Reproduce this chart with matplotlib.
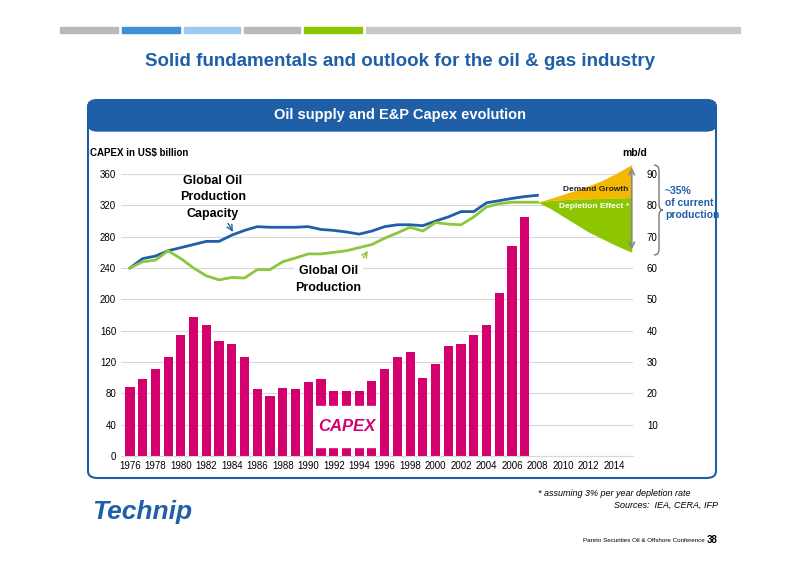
import numpy as np
import matplotlib
matplotlib.use("Agg")
import matplotlib.pyplot as plt
from matplotlib.patches import FancyBboxPatch, Rectangle
from matplotlib.path import Path as MPath
from matplotlib.patches import PathPatch

plt.rcParams["font.family"] = ["Liberation Sans", "DejaVu Sans"]

# ── Data ────────────────────────────────────────────────────────────────────
capex_years = np.arange(1976, 2008)
capex = [88, 98, 111, 127, 155, 177, 167, 147, 143, 127, 85, 76, 87, 86, 94, 98,
         83, 83, 83, 96, 111, 127, 133, 100, 117, 141, 143, 155, 167, 208, 268, 305]

line_years = np.arange(1976, 2009)
capacity_mbd = [60, 63, 63.8, 65.5, 66.5, 67.5, 68.5, 68.5, 70.5, 72, 73.2, 73, 73, 73,
                73.2, 72.3, 72, 71.5, 70.8, 71.8, 73.2, 73.8, 73.8, 73.5, 75, 76.3,
                78, 78, 80.8, 81.5, 82.2, 82.8, 83.2]
production_mbd = [60, 62, 62.5, 65.5, 63, 60, 57.5, 56.2, 57, 56.8, 59.5, 59.5, 62,
                  63.2, 64.5, 64.5, 65, 65.5, 66.5, 67.5, 69.5, 71.2, 73, 71.8, 74.5,
                  74, 73.8, 76.3, 79.5, 80.5, 81, 81, 81]

fan_years = [2008, 2009, 2010, 2011, 2012, 2013, 2014, 2015.4]
demand_top = [81, 82.2, 83.5, 84.8, 86.2, 87.8, 89.8, 93]
split_line = [81, 81.5, 81.8, 82, 82.1, 82.2, 82.3, 82.5]
depletion_bottom = [81, 79, 76.5, 74, 71.5, 69.5, 67.5, 65]

x_ticks = list(range(1976, 2016, 2))
left_ticks = list(range(0, 361, 40))
right_ticks = list(range(10, 91, 10))

BLUE = "#1f5fa8"
GREEN = "#8cc63f"
MAGENTA = "#d4006e"
ORANGE = "#f5b800"
FAN_GREEN = "#8dc500"

fig = plt.figure(figsize=(8, 5.65), dpi=100, facecolor="white")

# top colored stripes
stripes = [(60, 118, "#b9b9b9"), (122, 180, "#3f8ed8"), (184, 240, "#9dc9ef"),
           (244, 300, "#b9b9b9"), (304, 362, "#8dc500"), (366, 740, "#c8c8c8")]
for x0, x1, c in stripes:
    fig.patches.append(Rectangle((x0 / 800, 1 - 33 / 565), (x1 - x0) / 800, 6 / 565,
                                 transform=fig.transFigure, color=c))

fig.text(0.5, 1 - 62 / 565, "Solid fundamentals and outlook for the oil & gas industry",
         ha="center", va="center", fontsize=13.5, fontweight="bold", color=BLUE)

# panel frame and header
fig.patches.append(FancyBboxPatch((88 / 800, 1 - 478 / 565), 628 / 800, 378 / 565,
                                  boxstyle="round,pad=0,rounding_size=0.012",
                                  transform=fig.transFigure, fill=False,
                                  ec=BLUE, lw=1.5))
fig.patches.append(FancyBboxPatch((88 / 800, 1 - 131 / 565), 628 / 800, 31 / 565,
                                  boxstyle="round,pad=0,rounding_size=0.012",
                                  transform=fig.transFigure, color=BLUE))
fig.text(0.5, 1 - 115 / 565, "Oil supply and E&P Capex evolution", ha="center",
         va="center", fontsize=10.5, fontweight="bold", color="white")

# ── Axes ────────────────────────────────────────────────────────────────────
ax = fig.add_axes([121 / 800, 1 - 456 / 565, 512 / 800, 282 / 565])
ax.set_xlim(1975.3, 2015.5)
ax.set_ylim(0, 360)
for y in left_ticks:
    ax.axhline(y, color="#d8d8d8", lw=0.8, zorder=0)
ax.bar(capex_years, capex, width=0.72, color=MAGENTA, zorder=2)
ax.plot(line_years, np.array(capacity_mbd) * 4, color=BLUE, lw=2, zorder=3)
ax.plot(line_years, np.array(production_mbd) * 4, color=GREEN, lw=2, zorder=3)

ax.fill_between(fan_years, np.array(split_line) * 4, np.array(demand_top) * 4,
                color=ORANGE, lw=0, clip_on=False, zorder=2)
ax.fill_between(fan_years, np.array(depletion_bottom) * 4, np.array(split_line) * 4,
                color=FAN_GREEN, lw=0, clip_on=False, zorder=2)
ax.annotate("", xy=(2015.4, 93 * 4), xytext=(2015.4, 65 * 4), annotation_clip=False,
            arrowprops=dict(arrowstyle="<->", color="#888888", lw=1.2))

ax.set_xticks(x_ticks)
ax.set_yticks(left_ticks)
ax.tick_params(length=0, labelsize=7)
for s in ax.spines.values():
    s.set_visible(False)
ax.spines["bottom"].set_visible(True)
ax.spines["bottom"].set_color("#d8d8d8")

ax2 = ax.twinx()
ax2.set_ylim(0, 90)
ax2.set_yticks(right_ticks)
ax2.tick_params(length=0, labelsize=7, pad=10)
for s in ax2.spines.values():
    s.set_visible(False)

# CAPEX label box (white gap across bars)
ax.add_patch(Rectangle((1990.5, 12), 5, 52, color="white", zorder=4))
ax.text(1993, 38, "CAPEX", ha="center", va="center", fontsize=12, fontweight="bold",
        style="italic", color=MAGENTA, zorder=5)

ax.text(1982.5, 330, "Global Oil\nProduction\nCapacity", ha="center", va="center",
        fontsize=9, fontweight="bold", linespacing=1.5)
ax.annotate("", xy=(1984.2, 283), xytext=(1983.6, 300),
            arrowprops=dict(arrowstyle="->", color=BLUE, lw=1))
ax.text(1991.6, 225, "Global Oil\nProduction", ha="center", va="center", fontsize=9,
        fontweight="bold", linespacing=1.5,
        bbox=dict(boxstyle="square,pad=0.1", fc="white", ec="none"))
ax.annotate("", xy=(1994.8, 265), xytext=(1994.2, 250),
            arrowprops=dict(arrowstyle="->", color=GREEN, lw=1))
ax.text(2012.6, 340, "Demand Growth", ha="center", va="center", fontsize=6,
        fontweight="bold", color="#222222", zorder=4)
ax.text(2012.4, 318, "Depletion Effect *", ha="center", va="center", fontsize=6,
        fontweight="bold", color="white", zorder=4)

fig.text(90 / 800, 1 - 153 / 565, "CAPEX in US$ billion", fontsize=7,
         fontweight="bold", va="center")
fig.text(622 / 800, 1 - 153 / 565, "mb/d", fontsize=7.5, fontweight="bold", va="center")

# curly brace drawn as a path (figure pixel coords)
bx, top, bot = 654, 165, 255
mid = (top + bot) / 2
verts = [(bx, top), (bx + 5, top), (bx + 5, top + 6), (bx + 5, mid - 6),
         (bx + 5, mid), (bx + 9, mid), (bx + 5, mid), (bx + 5, mid + 6),
         (bx + 5, bot - 6), (bx + 5, bot), (bx, bot)]
codes = [MPath.MOVETO, MPath.CURVE3, MPath.CURVE3, MPath.LINETO, MPath.CURVE3,
         MPath.CURVE3, MPath.CURVE3, MPath.CURVE3, MPath.LINETO, MPath.CURVE3,
         MPath.CURVE3]
verts = [(x / 800, 1 - y / 565) for x, y in verts]
fig.patches.append(PathPatch(MPath(verts, codes), transform=fig.transFigure,
                             fill=False, ec="#777777", lw=1))
fig.text(665 / 800, 1 - 203 / 565, "~35%\nof current\nproduction", fontsize=7.5,
         fontweight="bold", color=BLUE, va="center", linespacing=1.2)

fig.text(690 / 800, 1 - 496 / 565, "* assuming 3% per year depletion rate",
         ha="right", fontsize=6.5, style="italic")
fig.text(718 / 800, 1 - 508 / 565, "Sources:  IEA, CERA, IFP", ha="right",
         fontsize=6.5, style="italic")
fig.text(92 / 800, 1 - 512 / 565, "Technip", fontsize=19, fontweight="bold",
         style="italic", color="#1f5fa8", va="center")
fig.text(705 / 800, 1 - 540 / 565, "Pareto Securities Oil & Offshore Conference",
         ha="right", fontsize=4.5, va="center")
fig.text(718 / 800, 1 - 540 / 565, "38", ha="right", fontsize=7, fontweight="bold",
         va="center")

fig.savefig("out.png", dpi=100, facecolor="white")
